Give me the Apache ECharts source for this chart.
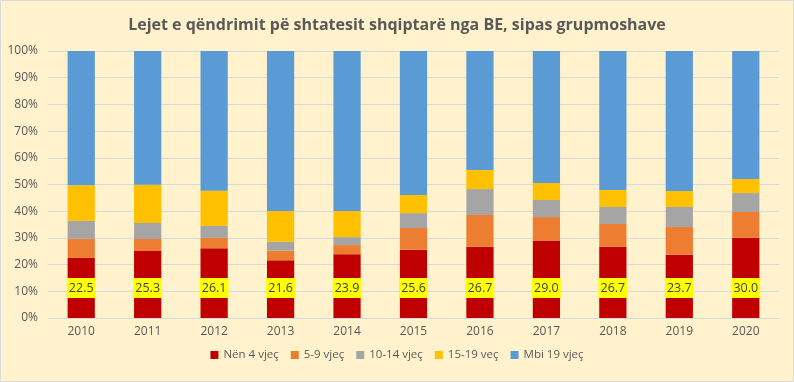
<!DOCTYPE html>
<html><head><meta charset="utf-8">
<script src="https://cdn.jsdelivr.net/npm/echarts@6/dist/echarts.min.js"></script>
<style>html,body{margin:0;padding:0;background:#fff;}#c{width:794px;height:382px;}</style>
</head><body><div id="c"></div>
<script>
var years = ['2010','2011','2012','2013','2014','2015','2016','2017','2018','2019','2020'];
var nen4 = [22.5,25.3,26.1,21.6,23.9,25.6,26.7,29.0,26.7,23.7,30.0];
var v5_9 = [7.2,4.3,3.9,3.6,3.4,8.1,11.9,8.8,8.5,10.4,9.7];
var v10_14 = [6.7,6.0,4.5,3.4,3.0,5.6,9.7,6.4,6.4,7.5,7.1];
var v15_19 = [13.3,14.3,13.2,11.5,9.8,6.8,7.1,6.4,6.3,6.0,5.3];
var mbi19 = [50.3,50.1,52.3,59.9,59.9,53.9,44.6,49.4,52.1,52.4,47.9];
var names = ['Nën 4 vjeç','5-9 vjeç','10-14 vjeç','15-19 veç','Mbi 19 vjeç'];
var colors = ['#C00000','#ED7D31','#A5A5A5','#FFC000','#5B9BD5'];
var yTicks = [0,10,20,30,40,50,60,70,80,90,100];

var font = 'Open Sans, Liberation Sans, sans-serif';
var all = [nen4, v5_9, v10_14, v15_19, mbi19];
var series = all.map(function(arr, i){
  var s = {name: names[i], type:'bar', stack:'t', barWidth:'41%', data: arr,
    itemStyle:{color:colors[i]}, emphasis:{disabled:true}};
  if (i === 0) {
    s.label = {show:true, position:'insideBottom', distance:20,
      formatter:function(p){return p.value.toFixed(1);},
      backgroundColor:'#FFFF00', color:'#404040', fontSize:12.5, fontFamily:font,
      padding:[4,2,3,2]};
  }
  return s;
});
var chart = echarts.init(document.getElementById('c'));
chart.setOption({
  backgroundColor:'#FFF2CC',
  animation:false,
  graphic:[{type:'rect', shape:{x:0.5,y:0.5,width:793,height:381}, silent:true,
    style:{fill:'none', stroke:'#D9D9D9', lineWidth:1}}],
  title:{text:'Lejet e qëndrimit pë shtatesit shqiptarë nga BE, sipas grupmoshave', left:'center', top:12,
    textStyle:{color:'#595959', fontSize:16, fontWeight:'bold', fontFamily:font}},
  grid:{left:48, right:15, top:51, bottom:64},
  legend:{bottom:16, itemWidth:8, itemHeight:8, itemGap:12, icon:'rect',
    textStyle:{color:'#595959', fontSize:11.5, fontFamily:font}, data:names},
  xAxis:{type:'category', data:years, axisTick:{show:false},
    axisLine:{lineStyle:{color:'#D9D9D9'}},
    axisLabel:{color:'#595959', fontSize:12, fontFamily:font, margin:8}},
  yAxis:{type:'value', min:0, max:100, interval:10,
    axisLabel:{formatter:function(v){return v+'%';}, color:'#595959', fontSize:12, fontFamily:font, margin:10},
    splitLine:{lineStyle:{color:'#D9D9D9'}}, axisLine:{show:false}, axisTick:{show:false}},
  series: series
});
</script>
</body></html>
